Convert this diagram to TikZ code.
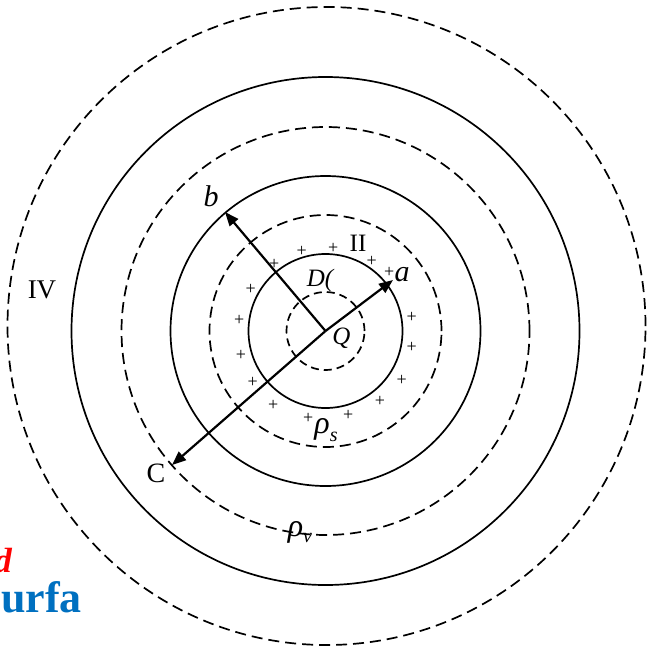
\documentclass[tikz,border=0pt]{standalone}
\usepackage{fontspec}
\setmainfont{Liberation Serif}
\usetikzlibrary{arrows.meta}
\tikzset{
  solidring/.style={draw=black, line width=1.7pt},
  dashring/.style={draw=black, line width=1.7pt, dash pattern=on 11pt off 6pt},
  smalldashring/.style={draw=black, line width=1.7pt, dash pattern=on 8pt off 5pt},
  radarrow/.style={draw=black, line width=2.2pt, -{Triangle[length=14pt,width=11pt]}},
  plussign/.style={inner sep=0pt, font=\fontsize{18}{18}\selectfont},
  itlabel/.style={inner sep=0pt, font=\fontsize{30}{30}\selectfont\itshape},
  rmlabel/.style={inner sep=0pt, font=\fontsize{26}{26}\selectfont},
}
\begin{document}
\begin{tikzpicture}[x=1pt,y=-1pt]
\useasboundingbox (0,0) rectangle (652,645);
\clip (0,0) rectangle (652,645);
\coordinate (O) at (325.5,331);
% rings
\draw[smalldashring] (O) circle[radius=39pt];
\draw[solidring] (O) circle[radius=77pt];
\draw[dashring] (O) circle[radius=116pt];
\draw[solidring] (O) circle[radius=155pt];
\draw[dashring] (O) circle[radius=204pt];
\draw[solidring] (O) circle[radius=254pt];
\draw[dashring] (326.5,326) circle[radius=319pt];
% arrows
\coordinate (tipa) at (393,280);
\coordinate (tipb) at (225,212);
\coordinate (tipc) at (172,465);
\draw[radarrow] (O) -- (tipa);
\draw[radarrow] (O) -- (tipb);
\draw[radarrow] (O) -- (tipc);
% plus signs
\node[plussign] (p1) at (301.7,251.7) {+};
\node[plussign] (p2) at (333.3,248.3) {+};
\node[plussign] (p3) at (371.7,261.7) {+};
\node[plussign] (p4) at (389.3,272.7) {+};
\node[plussign] (p5) at (274.3,264) {+};
\node[plussign] (p6) at (250.7,289.3) {+};
\node[plussign] (p7) at (239.3,320) {+};
\node[plussign] (p8) at (241,355) {+};
\node[plussign] (p9) at (252.7,382.7) {+};
\node[plussign] (p10) at (411.7,317.3) {+};
\node[plussign] (p11) at (411.7,347.7) {+};
\node[plussign] (p12) at (401.7,380) {+};
\node[plussign] (p13) at (380,401.7) {+};
\node[plussign] (p14) at (348.3,415) {+};
\node[plussign] (p15) at (308.3,418.3) {+};
\node[plussign] (p16) at (273.3,405) {+};
% labels
\node[itlabel] (lb) at (211,196) {b};
\node[itlabel] (la) at (402,275) {a};
\node[itlabel, font=\fontsize{25}{25}\selectfont\itshape] (lD) at (320,280) {D(};
\node[itlabel, font=\fontsize{25}{25}\selectfont\itshape] (lQ) at (341.5,338) {Q};
\node[rmlabel, font=\fontsize{28}{28}\selectfont] (lC) at (156,473) {C};
\node[rmlabel, font=\fontsize{25}{25}\selectfont] (lII) at (358,243) {II};
\node[rmlabel, font=\fontsize{27}{27}\selectfont] (lIV) at (42,290) {IV};
\node[itlabel, font=\fontsize{32}{32}\selectfont\itshape] (lrs) at (326,430) {ρ\raisebox{-0.25em}{\fontsize{20}{20}\selectfont s}};
\node[itlabel, font=\fontsize{32}{32}\selectfont\itshape] (lrv) at (300,532) {ρ\raisebox{-0.2em}{\fontsize{20}{20}\selectfont v}};
% cut-off fragments at the lower left, as in the reference
\node[inner sep=0pt, anchor=base east, text=red, font=\fontsize{35}{35}\selectfont\bfseries\itshape] (fragd) at (12,572) {d};
\node[inner sep=0pt, anchor=base east, text={rgb,255:red,0;green,112;blue,192}, font=\fontsize{44}{44}\selectfont\bfseries] (fragu) at (82,612) {urfa};
\end{tikzpicture}
\end{document}
